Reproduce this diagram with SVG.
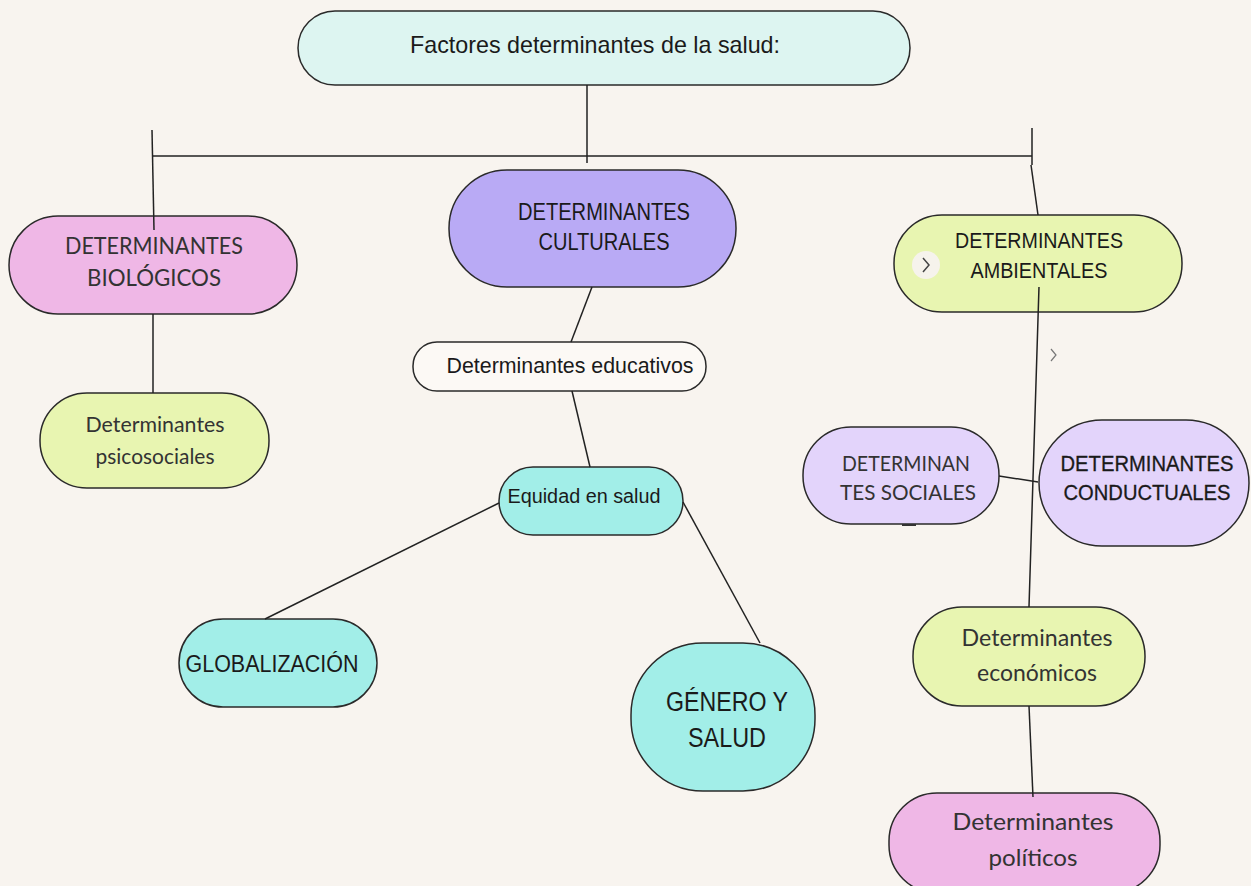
<svg xmlns="http://www.w3.org/2000/svg" width="1251" height="886" viewBox="0 0 1251 886">
<style>
.n{stroke:#2a2a2a;stroke-width:1.5}
.c{stroke:#222;stroke-width:1.5;fill:none}
.a{font-family:"Liberation Sans",Arial,sans-serif;fill:#1a1a1a;text-anchor:middle}
.l{font-family:Lato,"Noto Sans",sans-serif;font-weight:400;fill:#333;text-anchor:middle}
</style>
<rect width="1251" height="886" fill="#f8f4ef"/>
<g id="root">
<rect class="n" x="298" y="11" width="612" height="74" rx="37" fill="#ddf5f1"/>
<text class="a" x="595" y="53" font-size="24" textLength="370" lengthAdjust="spacingAndGlyphs">Factores determinantes de la salud:</text>
</g>
<g id="biologicos">
<rect class="n" x="9" y="216" width="288" height="98" rx="49" fill="#efb7e6"/>
<text class="l" x="154" y="254" font-size="23" textLength="178" lengthAdjust="spacingAndGlyphs">DETERMINANTES</text>
<text class="l" x="154" y="286" font-size="23" textLength="134" lengthAdjust="spacingAndGlyphs">BIOLÓGICOS</text>
</g>
<g id="psicosociales">
<rect class="n" x="40" y="393" width="229" height="95" rx="47" fill="#e8f5b1"/>
<text class="l" x="155" y="432" font-size="21" textLength="139" lengthAdjust="spacingAndGlyphs">Determinantes</text>
<text class="l" x="155" y="464" font-size="21" textLength="119" lengthAdjust="spacingAndGlyphs">psicosociales</text>
</g>
<g id="culturales">
<rect class="n" x="449" y="170" width="287" height="117" rx="58" fill="#b9aaf5"/>
<text class="a" x="604" y="220" font-size="23" textLength="172" lengthAdjust="spacingAndGlyphs">DETERMINANTES</text>
<text class="a" x="604" y="250" font-size="23" textLength="131" lengthAdjust="spacingAndGlyphs">CULTURALES</text>
</g>
<g id="educativos">
<rect class="n" x="413" y="342" width="293" height="49" rx="24" fill="#fcf9f5"/>
<text class="a" x="570" y="373" font-size="22" textLength="247" lengthAdjust="spacingAndGlyphs">Determinantes educativos</text>
</g>
<g id="equidad">
<rect class="n" x="499" y="467" width="184" height="68" rx="34" fill="#a2eee8"/>
<text class="a" x="584" y="503" font-size="20" textLength="153" lengthAdjust="spacingAndGlyphs">Equidad en salud</text>
</g>
<g id="globalizacion">
<rect class="n" x="179" y="619" width="198" height="88" rx="44" fill="#a2eee8"/>
<text class="a" x="272" y="672" font-size="23" textLength="173" lengthAdjust="spacingAndGlyphs">GLOBALIZACIÓN</text>
</g>
<g id="genero">
<rect class="n" x="631" y="643" width="184" height="148" rx="72" fill="#a2eee8"/>
<text class="a" x="727" y="711" font-size="27" textLength="122" lengthAdjust="spacingAndGlyphs">GÉNERO Y</text>
<text class="a" x="727" y="747" font-size="27" textLength="78" lengthAdjust="spacingAndGlyphs">SALUD</text>
</g>
<g id="ambientales">
<rect class="n" x="894" y="215" width="288" height="97" rx="48" fill="#e8f5b1"/>
<text class="a" x="1039" y="248" font-size="22" textLength="168" lengthAdjust="spacingAndGlyphs">DETERMINANTES</text>
<text class="a" x="1039" y="278" font-size="22" textLength="137" lengthAdjust="spacingAndGlyphs">AMBIENTALES</text>
<circle cx="926" cy="265" r="14" fill="#f6f3ec"/>
<path d="M923 258 L929 265 L923 272" fill="none" stroke="#444" stroke-width="1.5"/>
<path d="M1051 349 L1056 355 L1051 361" fill="none" stroke="#777" stroke-width="1.2"/>
</g>
<g id="sociales">
<rect class="n" x="803" y="427" width="196" height="97" rx="48" fill="#e3d4fb"/>
<text class="l" x="906" y="471" font-size="22" textLength="128" lengthAdjust="spacingAndGlyphs">DETERMINAN</text>
<text class="l" x="908" y="500" font-size="22" textLength="136" lengthAdjust="spacingAndGlyphs">TES SOCIALES</text>
<line x1="902" y1="525" x2="916" y2="525" stroke="#333" stroke-width="2"/>
</g>
<g id="conductuales">
<rect class="n" x="1039" y="420" width="210" height="126" rx="63" fill="#e3d4fb"/>
<text class="a" x="1147" y="471" font-size="22" textLength="173" lengthAdjust="spacingAndGlyphs" stroke="#1a1a1a" stroke-width="0.3">DETERMINANTES</text>
<text class="a" x="1147" y="500" font-size="22" textLength="167" lengthAdjust="spacingAndGlyphs" stroke="#1a1a1a" stroke-width="0.3">CONDUCTUALES</text>
</g>
<g id="economicos">
<rect class="n" x="913" y="607" width="232" height="99" rx="49" fill="#e8f5b1"/>
<text class="l" x="1037" y="646" font-size="23" textLength="151" lengthAdjust="spacingAndGlyphs">Determinantes</text>
<text class="l" x="1037" y="681" font-size="23" textLength="120" lengthAdjust="spacingAndGlyphs">económicos</text>
</g>
<g id="politicos">
<rect class="n" x="889" y="793" width="271" height="100" rx="48" fill="#efb7e6"/>
<text class="l" x="1033" y="830" font-size="24" textLength="161" lengthAdjust="spacingAndGlyphs">Determinantes</text>
<text class="l" x="1033" y="866" font-size="24" textLength="89" lengthAdjust="spacingAndGlyphs">políticos</text>
</g>
<g id="connectors">
<line class="c" x1="587" y1="85" x2="587" y2="163"/>
<line class="c" x1="152" y1="156" x2="1032" y2="156"/>
<line class="c" x1="152" y1="130" x2="154" y2="230"/>
<line class="c" x1="1032" y1="128" x2="1032" y2="165"/>
<line class="c" x1="1031" y1="165" x2="1038" y2="215"/>
<line class="c" x1="153" y1="314" x2="153" y2="393"/>
<line class="c" x1="592" y1="287" x2="571" y2="342"/>
<line class="c" x1="572" y1="391" x2="590" y2="467"/>
<line class="c" x1="499" y1="503" x2="265" y2="619"/>
<line class="c" x1="683" y1="502" x2="760" y2="643"/>
<line class="c" x1="999" y1="476" x2="1038" y2="482"/>
<line class="c" x1="1039" y1="287" x2="1029" y2="607"/>
<line class="c" x1="1029" y1="706" x2="1033" y2="797"/>
</g>
</svg>
